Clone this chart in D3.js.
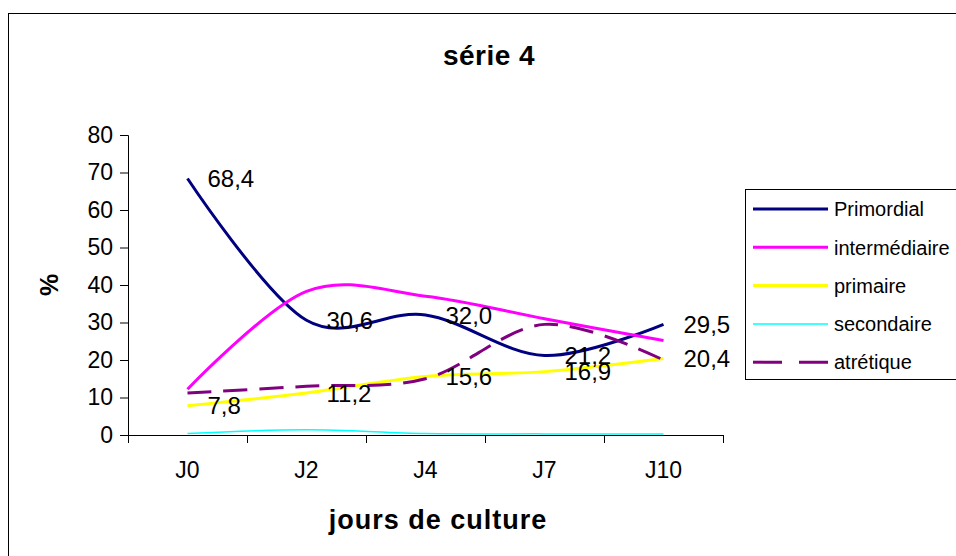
<!DOCTYPE html>
<html>
<head>
<meta charset="utf-8">
<script src="https://cdn.jsdelivr.net/npm/d3@7"></script>
<style>
  html, body { margin: 0; padding: 0; background: #fff; }
  svg text { font-family: "Liberation Sans", Arial, sans-serif; fill: #000; }
</style>
</head>
<body>
<svg id="chart" width="956" height="556"></svg>
<script>
// Days of culture
const categories = ["J0", "J2", "J4", "J7", "J10"];

// Percentages per follicle class
const primordial    = [68.4, 30.6, 32.0, 21.2, 29.5];
const intermediaire = [12.2, 38.3, 37.0, 31.0, 25.2];
const primaire      = [7.8, 11.2, 15.6, 16.9, 20.4];
const secondaire    = [0.4, 1.4, 0.4, 0.3, 0.3];
const atretique     = [11.2, 13.0, 15.0, 29.5, 20.0];

const yTicks = [0, 10, 20, 30, 40, 50, 60, 70, 80];

const series = [
  { name: "Primordial",    values: primordial,    color: "#000080", width: 3,   dash: null,    labels: true },
  { name: "intermédiaire", values: intermediaire, color: "#FF00FF", width: 3,   dash: null,    labels: false },
  { name: "primaire",      values: primaire,      color: "#FFFF00", width: 3,   dash: null,    labels: true },
  { name: "secondaire",    values: secondaire,    color: "#00FFFF", width: 1.5, dash: null,    labels: false },
  { name: "atrétique",     values: atretique,     color: "#800080", width: 3,   dash: "24,12", labels: false }
];

const svg = d3.select("#chart");
const plot = { left: 128, right: 723, top: 135, bottom: 435 };

// Chart frame
svg.append("rect")
  .attr("x", 8.5).attr("y", 13.5)
  .attr("width", 1000).attr("height", 600)
  .attr("fill", "#fff").attr("stroke", "#000").attr("stroke-width", 1);

const xBand = d3.scaleBand().domain(categories).range([plot.left, plot.right]);
const x = d3.scalePoint().domain(categories).range([plot.left, plot.right]).padding(0.5);
const y = d3.scaleLinear().domain([0, 80]).range([plot.bottom, plot.top]);

// Y axis
const yAxis = svg.append("g")
  .attr("transform", `translate(${plot.left},0)`)
  .call(d3.axisLeft(y).tickValues(yTicks).tickSize(8).tickPadding(7).tickFormat(d3.format("d")));
yAxis.selectAll("text").style("font-size", "23px");
yAxis.selectAll("line, path").attr("stroke", "#000");

// X axis: line, boundary ticks, centred labels
const xg = svg.append("g");
xg.append("line")
  .attr("x1", plot.left).attr("x2", plot.right)
  .attr("y1", plot.bottom + 0.5).attr("y2", plot.bottom + 0.5)
  .attr("stroke", "#000");
const bounds = categories.map(c => xBand(c)).concat([plot.right]);
xg.selectAll("line.tick").data(bounds).join("line")
  .attr("class", "tick")
  .attr("x1", d => Math.round(d) + 0.5).attr("x2", d => Math.round(d) + 0.5)
  .attr("y1", plot.bottom).attr("y2", plot.bottom + 8)
  .attr("stroke", "#000");
xg.selectAll("text").data(categories).join("text")
  .attr("x", d => x(d)).attr("y", 478)
  .attr("text-anchor", "middle")
  .style("font-size", "23px")
  .text(d => d);

// Lines
const line = d3.line()
  .x((d, i) => x(categories[i]))
  .y(d => y(d))
  .curve(d3.curveCatmullRom.alpha(0));

svg.append("g").selectAll("path").data(series).join("path")
  .attr("d", s => line(s.values))
  .attr("fill", "none")
  .attr("stroke", s => s.color)
  .attr("stroke-width", s => s.width)
  .attr("stroke-dasharray", s => s.dash)
  .attr("stroke-linejoin", "round");

// Value labels
series.filter(s => s.labels).forEach(s => {
  svg.append("g").selectAll("text").data(s.values).join("text")
    .attr("x", (d, i) => x(categories[i]) + 20)
    .attr("y", d => y(d))
    .attr("dy", "0.36em")
    .style("font-size", "24px")
    .text(d => d3.format(".1f")(d).replace(".", ","));
});

// Titles
svg.append("text")
  .attr("x", 489).attr("y", 65)
  .attr("text-anchor", "middle")
  .style("font-size", "28px").style("font-weight", "bold").style("letter-spacing", "0.5px")
  .text("série 4");

svg.append("text")
  .attr("x", 438).attr("y", 529)
  .attr("text-anchor", "middle")
  .style("font-size", "27px").style("font-weight", "bold").style("letter-spacing", "1px")
  .text("jours de culture");

svg.append("text")
  .attr("transform", "translate(58,285) rotate(-90)")
  .attr("text-anchor", "middle")
  .style("font-size", "25px").style("font-weight", "bold")
  .text("%");

// Legend
const legend = svg.append("g");
legend.append("rect")
  .attr("x", 745.5).attr("y", 189.5)
  .attr("width", 300).attr("height", 190)
  .attr("fill", "#fff").attr("stroke", "#000");
const rowY = i => 209 + i * 38.3;
legend.selectAll("line").data(series).join("line")
  .attr("x1", 753).attr("x2", 828)
  .attr("y1", (s, i) => rowY(i)).attr("y2", (s, i) => rowY(i))
  .attr("stroke", s => s.color)
  .attr("stroke-width", s => s.width)
  .attr("stroke-dasharray", s => s.dash ? "29,17" : null);
legend.selectAll("text").data(series).join("text")
  .attr("x", 834).attr("y", (s, i) => rowY(i))
  .attr("dy", "0.36em")
  .style("font-size", "20px")
  .text(s => s.name);
</script>
</body>
</html>
